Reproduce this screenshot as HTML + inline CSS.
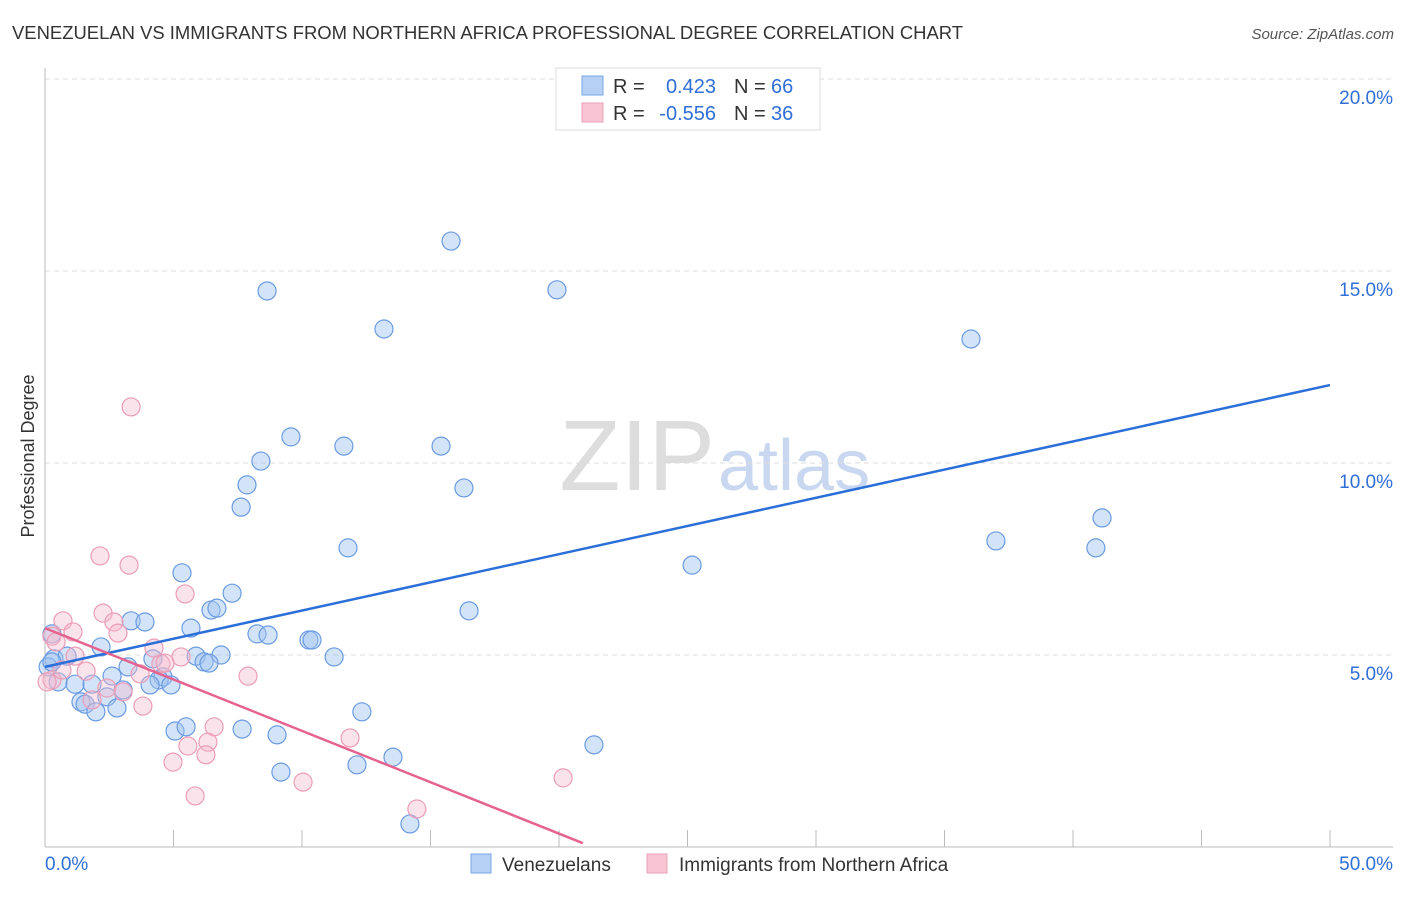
<!DOCTYPE html>
<html><head><meta charset="utf-8"><style>
body{margin:0;background:#fff;font-family:"Liberation Sans",sans-serif;}
svg text{font-family:"Liberation Sans",sans-serif;}
</style></head><body>
<svg id="chart" width="1406" height="892" viewBox="0 0 1406 892" xmlns="http://www.w3.org/2000/svg">
<text x="12" y="39" font-size="18" fill="#333" textLength="951" lengthAdjust="spacingAndGlyphs">VENEZUELAN VS IMMIGRANTS FROM NORTHERN AFRICA PROFESSIONAL DEGREE CORRELATION CHART</text>
<text x="1394" y="39" font-size="15" font-style="italic" fill="#555" text-anchor="end">Source: ZipAtlas.com</text>
<text x="715" y="490" font-size="100" font-family="Liberation Serif" fill="#ddd" text-anchor="end">ZIP</text>
<text x="718" y="490" font-size="72" fill="#c9d8f0">atlas</text>
<g id="grid"></g>
<g id="axes"></g>
<g id="pts"></g>
<g id="lines"></g>
<text x="34" y="456" font-size="18" fill="#333" text-anchor="middle" transform="rotate(-90 34 456)">Professional Degree</text>
<g>
<rect x="556" y="68" width="264" height="62" fill="#fff" stroke="#ddd"/>
<rect x="582" y="76" width="21" height="19" fill="#b5cff5" stroke="#7aa6e6"/>
<rect x="582" y="103" width="21" height="19" fill="#f9c5d5" stroke="#eaa0b8"/>
<text x="613" y="93" font-size="20" fill="#333">R = </text><text x="716" y="93" font-size="20" fill="#2f6fd6" text-anchor="end">0.423</text>
<text x="734" y="93" font-size="20" fill="#333">N = </text><text x="771" y="93" font-size="20" fill="#2f6fd6">66</text>
<text x="613" y="120" font-size="20" fill="#333">R = </text><text x="716" y="120" font-size="20" fill="#2f6fd6" text-anchor="end">-0.556</text>
<text x="734" y="120" font-size="20" fill="#333">N = </text><text x="771" y="120" font-size="20" fill="#2f6fd6">36</text>
</g>
<g>
<rect x="471" y="854" width="20" height="19" fill="#b5cff5" stroke="#7aa6e6"/>
<text x="502" y="871" font-size="19" fill="#333">Venezuelans</text>
<rect x="647" y="854" width="20" height="19" fill="#f9c5d5" stroke="#eaa0b8"/>
<text x="679" y="871" font-size="19" fill="#333">Immigrants from Northern Africa</text>
</g>
<text x="45" y="870" font-size="19" fill="#2f6fd6">0.0%</text>
<text x="1393" y="870" font-size="19" fill="#2f6fd6" text-anchor="end">50.0%</text>
</svg>
<script>
const yTicks=[5,10,15,20];
const yTickLabels=["5.0%","10.0%","15.0%","20.0%"];
const blueX=[15.8,8.64,19.92,13.19,36.03,9.57,11.63,15.41,8.40,16.30,7.86,7.63,41.13,11.79,37.00,40.89,25.18,5.33,7.28,6.46,6.69,16.50,3.35,3.89,5.68,8.25,8.68,10.27,10.39,2.18,0.27,0.35,0.86,6.85,5.88,6.19,6.38,4.20,11.25,3.23,2.61,4.59,4.44,0.12,0.51,1.17,1.83,4.09,4.90,3.04,2.41,1.40,1.56,2.80,1.98,12.33,5.06,5.49,7.67,9.03,21.36,13.54,12.14,9.18,14.20,0.27];
const blueY=[15.78,14.48,14.51,13.49,13.23,10.68,10.44,10.44,10.05,9.35,9.43,8.85,8.57,7.79,7.97,7.79,7.34,7.14,6.61,6.17,6.22,6.15,5.89,5.86,5.70,5.55,5.52,5.39,5.39,5.21,5.55,4.90,4.97,5.00,4.97,4.82,4.79,4.90,4.95,4.69,4.45,4.43,4.35,4.69,4.30,4.24,4.24,4.22,4.22,4.09,3.91,3.78,3.72,3.62,3.52,3.52,3.02,3.13,3.07,2.92,2.66,2.34,2.14,1.95,0.60,4.82];
const pinkX=[3.35,2.14,3.27,5.45,2.26,0.70,2.68,2.84,1.09,0.27,0.43,4.24,5.29,1.17,4.51,1.60,4.67,3.70,7.90,2.41,3.04,1.83,3.81,6.58,11.87,5.56,6.34,6.26,4.98,20.16,10.04,5.84,14.47,0.27,0.08,0.66];
const pinkY=[11.46,7.58,7.34,6.59,6.09,5.89,5.86,5.57,5.60,5.49,5.34,5.18,4.95,4.97,4.77,4.58,4.79,4.51,4.45,4.14,4.04,3.83,3.67,3.13,2.84,2.63,2.73,2.40,2.21,1.80,1.69,1.33,0.99,4.35,4.30,4.61];
const blueTrend=[4.69,12.03];
const pinkTrend=[5.70,-0.2676];
const X=v=>45+v*25.7, Y=v=>847-v*38.4;
const NS="http://www.w3.org/2000/svg";
function mk(tag,attrs,parent){const e=document.createElementNS(NS,tag);for(const k in attrs)e.setAttribute(k,attrs[k]);document.getElementById(parent).appendChild(e);return e;}
yTicks.forEach((t,i)=>{
  const l=mk('line',{x1:45,x2:1393,y1:Y(t),y2:Y(t),stroke:'#ddd','stroke-dasharray':'5,4'},'grid');
  
  
  const tx=mk('text',{x:1393,y:Y(t)+25,'font-size':19,fill:'#2f6fd6','text-anchor':'end'},'grid');
  tx.textContent=yTickLabels[i];
  
  
});
const ya=mk('line',{x1:45,x2:45,y1:68,y2:847,stroke:'#bbb'},'axes');


const xa=mk('line',{x1:45,x2:1393,y1:847,y2:847,stroke:'#bbb'},'axes');


for(let v=0;v<=50;v+=5){
  const t=mk('line',{x1:X(v),x2:X(v),y1:830,y2:847,stroke:'#bbb'},'axes');
  
  
}
blueX.forEach((x,i)=>{
  const c=mk('circle',{cx:X(x),cy:Y(blueY[i]),r:9,fill:'rgba(160,195,240,0.45)',stroke:'#6a9be2','stroke-width':1.2},'pts');
  
  
});
pinkX.forEach((x,i)=>{
  const c=mk('circle',{cx:X(x),cy:Y(pinkY[i]),r:9,fill:'rgba(246,185,205,0.4)',stroke:'#eb9db7','stroke-width':1.2},'pts');
  
  
});
const bl=mk('line',{x1:X(0),y1:Y(blueTrend[0]),x2:X(50),y2:Y(blueTrend[1]),stroke:'#2b6fd8','stroke-width':2.5},'lines');


const xe=20.93;
const pl=mk('line',{x1:X(0),y1:Y(pinkTrend[0]),x2:X(xe),y2:Y(pinkTrend[0]+pinkTrend[1]*xe),stroke:'#e5638f','stroke-width':2.5},'lines');


</script>
</body></html>
